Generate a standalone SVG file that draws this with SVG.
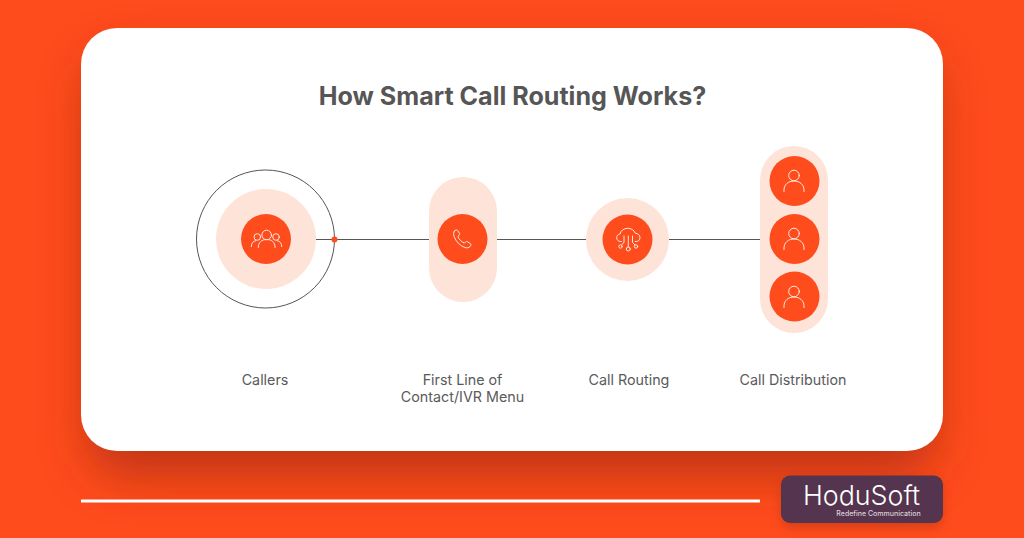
<svg xmlns="http://www.w3.org/2000/svg" width="1024" height="538" viewBox="0 0 1024 538">
<style>
text{font-family:"Inter","Liberation Sans",sans-serif}
.lbl{font-size:14.3px;font-weight:400;fill:#5a5a5a;text-anchor:middle}
.pale{fill:#fee3d8}
.org{fill:#ff4c1d}
.ico{fill:none;stroke:#ffe9df;stroke-width:1;stroke-linecap:round;stroke-linejoin:round}
.con{stroke:#555;stroke-width:1;fill:none}
</style>
<defs>
<filter id="sh" x="-15%" y="-20%" width="130%" height="150%"><feGaussianBlur stdDeviation="24"/></filter>
<filter id="sh2" x="-15%" y="-30%" width="130%" height="160%"><feGaussianBlur stdDeviation="5"/></filter>
<g id="person">
<circle cx="0" cy="-5.500" r="5.300" class="ico"/>
<path d="M-10 10.500v-1.500c0-5.500 4.500-9 10-9s10 3.500 10 9v1.500" class="ico"/>
</g>
</defs>
<rect width="1024" height="538" fill="#ff4c1d"/>
<rect x="88" y="55" width="848" height="420" rx="36" fill="#a02c0c" opacity=".68" filter="url(#sh)"/>
<rect x="781" y="480" width="162" height="48" rx="10" fill="#a8300f" opacity=".45" filter="url(#sh2)"/>
<rect x="81" y="28" width="862" height="423" rx="36" fill="#fff"/>
<rect x="81" y="499.500" width="679" height="3" fill="#fff"/>
<text x="512.500" y="105" font-size="25.100" font-weight="700" fill="#565656" text-anchor="middle">How Smart Call Routing Works?</text>
<g id="connectors">
<line x1="316" y1="239.500" x2="429" y2="239.500" class="con"/>
<line x1="497" y1="239.500" x2="587" y2="239.500" class="con"/>
<line x1="669" y1="239.500" x2="760" y2="239.500" class="con"/>
</g>
<g id="node-callers">
<circle cx="265.500" cy="239" r="69" fill="none" stroke="#555" stroke-width="1"/>
<circle cx="266" cy="239" r="50" class="pale"/>
<circle cx="266" cy="239" r="25" class="org"/>
<circle cx="266.700" cy="235" r="4.800" class="ico"/>
<path d="M258.300 247.500c0-5.500 3.500-8 8.400-8s8.400 2.500 8.400 8" class="ico"/>
<circle cx="257.300" cy="237" r="3.300" class="ico"/>
<path d="M251.300 246.500c0-3.500 1.800-5.500 4.500-5.800" class="ico"/>
<circle cx="276" cy="237" r="3.300" class="ico"/>
<path d="M281.700 246.500c0-3.500-1.800-5.500-4.500-5.800" class="ico"/>
<circle cx="334.500" cy="239.500" r="3" fill="#ff4c1d"/>
<text x="265" y="385" class="lbl">Callers</text>
</g>
<g id="node-ivr">
<rect x="429" y="177" width="68" height="125" rx="34" class="pale"/>
<circle cx="462.500" cy="239" r="25" class="org"/>
<path d="M454.500 231c1-1 2.500-1.500 3.200-.5l1.800 3c.4.800 0 1.500-.6 2l-1 .9c1 3 3.500 5.500 6.500 6.700l1-1c.6-.6 1.300-.8 2-.4l3 1.900c.9.700.5 2.200-.5 3.100-1.200 1.100-3 1.500-5 .8-5-1.800-9-6-10.800-11-.8-2.300-.6-4.200.4-5.500z" class="ico"/>
<text x="462.500" y="385" class="lbl">First Line of</text>
<text x="462.500" y="402" class="lbl">Contact/IVR Menu</text>
</g>
<g id="node-routing">
<circle cx="627.500" cy="239.500" r="41.500" class="pale"/>
<circle cx="627.500" cy="239.500" r="25" class="org"/>
<path d="M621.500 241.500h-1c-2.300 0-3.800-1.700-3.800-3.800 0-2 1.400-3.500 3.300-3.700.7-3.300 3.800-5.700 7.800-5.700 3.500 0 6.500 2 7.400 4.900 2.800.1 4.800 2.100 4.800 4.500 0 2.100-1.500 3.800-3.800 3.800h-1" class="ico"/>
<path d="M628.300 236v11M624 236v6.500l-2.300 2.300M632.500 236v6.500l2.300 2.300" class="ico"/>
<circle cx="628.300" cy="249" r="2" class="ico"/>
<circle cx="620.500" cy="246.500" r="1.700" class="ico"/>
<circle cx="636" cy="246.500" r="1.700" class="ico"/>
<text x="629" y="385" class="lbl">Call Routing</text>
</g>
<g id="node-distribution">
<rect x="760" y="146" width="68" height="187" rx="34" class="pale"/>
<circle cx="794.500" cy="181" r="25" class="org"/>
<circle cx="794.500" cy="239" r="25" class="org"/>
<circle cx="794.500" cy="296.500" r="25" class="org"/>
<use href="#person" x="794" y="181"/>
<use href="#person" x="794" y="239"/>
<use href="#person" x="794" y="297"/>
<text x="793" y="385" class="lbl">Call Distribution</text>
</g>
<g id="logo">
<rect x="781" y="475.500" width="162" height="47.500" rx="9" fill="#54344e"/>
<text x="861.500" y="505" font-size="26.800" fill="#fff" text-anchor="middle" font-weight="300">HoduSoft</text>
<text x="878.500" y="516" font-size="7" font-weight="500" fill="#d9d0d6" text-anchor="middle">Redefine Communication</text>
</g>
</svg>
